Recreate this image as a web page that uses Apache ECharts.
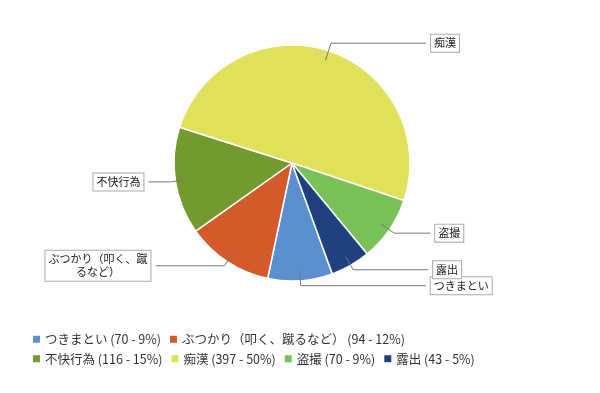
<!DOCTYPE html>
<html>
<head>
<meta charset="utf-8">
<script src="https://cdn.jsdelivr.net/npm/echarts@6/dist/echarts.min.js"></script>
<style>html,body{margin:0;padding:0;background:#fff;}#c{width:600px;height:393px;}</style>
</head>
<body>
<div id="c"></div>
<script>
const categories = ['つきまとい', 'ぶつかり（叩く、蹴るなど）', '不快行為', '痴漢', '盗撮', '露出'];
const values = [70, 94, 116, 397, 70, 43];
const labelTexts = ['つきまとい', '{c|ぶつかり（叩く、蹴}\n{c|るなど）}', '不快行為', '痴漢', '盗撮', '露出'];
const colors = ['#5b8fd0', '#d35b2b', '#729a2e', '#dfe15a', '#79c257', '#1f4180'];
const lineLen = [5, 5, 5, 8, 6, 5];
const lineLen2 = [125, 69, 22, 95, 36, 75];

const total = values.reduce((a, b) => a + b, 0);
const FONT = '"Noto Sans CJK JP", "DejaVu Sans", sans-serif';
const CX = 292, CY = 163, R = 118, INSET = 10, START = 290;

const pieData = categories.map((n, i) => ({
  name: n, value: values[i], itemStyle: { color: colors[i] }
}));
const labelData = categories.map((n, i) => ({
  name: n, value: values[i],
  label: { formatter: labelTexts[i] },
  labelLine: { length: lineLen[i] + INSET, length2: lineLen2[i] }
}));

const chart = echarts.init(document.getElementById('c'));
chart.setOption({
  animation: false,
  backgroundColor: '#fff',
  color: colors,
  legend: {
    left: 26, top: 328, width: 470,
    itemWidth: 9, itemHeight: 9, itemGap: 7,
    icon: 'rect',
    data: categories,
    textStyle: { fontSize: 12.5, color: '#333', fontFamily: FONT, padding: [0, 0, 0, -1] },
    formatter: function (name) {
      const i = categories.indexOf(name);
      return name + ' (' + values[i] + ' - ' + Math.round(values[i] / total * 100) + '%)';
    }
  },
  series: [{
    type: 'pie',
    z: 2,
    center: [CX, CY],
    radius: R,
    startAngle: START,
    clockwise: true,
    itemStyle: { borderColor: '#fff', borderWidth: 1.5 },
    label: { show: false },
    labelLine: { show: false },
    emphasis: { disabled: true },
    data: pieData
  }, {
    type: 'pie',
    z: 6,
    center: [CX, CY],
    radius: R - INSET,
    startAngle: START,
    clockwise: true,
    silent: true,
    legendHoverLink: false,
    avoidLabelOverlap: false,
    labelLayout: { hideOverlap: false },
    itemStyle: { color: 'rgba(0,0,0,0)', borderWidth: 0 },
    emphasis: { disabled: true },
    label: {
      show: true, position: 'outside',
      fontSize: 11, color: '#222', fontFamily: FONT,
      backgroundColor: '#fff', borderColor: '#aaa', borderWidth: 1,
      padding: [2, 3], lineHeight: 13,
      rich: { c: { align: 'center', fontSize: 11, lineHeight: 13, fontFamily: FONT, color: '#222' } }
    },
    labelLine: { show: true, lineStyle: { color: '#777', width: 1 } },
    data: labelData
  }]
});
</script>
</body>
</html>
